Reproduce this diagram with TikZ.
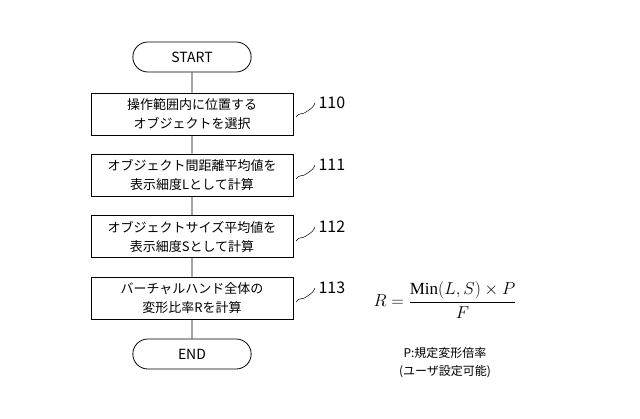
\documentclass[tikz,border=0pt]{standalone}
\usepackage{fontspec}
\setmainfont{Noto Sans CJK JP}
\newfontfamily\serif{Liberation Serif}
\usetikzlibrary{shapes.misc}
\begin{document}
\begin{tikzpicture}[x=1pt,y=-1pt,
  term/.style={draw,line width=0.8pt,rounded rectangle,minimum width=125pt,minimum height=30pt,font=\fontsize{14}{16}\selectfont},
  proc/.style={draw,line width=0.8pt,minimum width=202pt,minimum height=42pt,align=center,font=\fontsize{13}{19}\selectfont},
  lbl/.style={font=\fontsize{16}{18}\selectfont,anchor=west},
  sq/.style={line width=0.5pt}]
\useasboundingbox (0,0) rectangle (640,419);
\node[term] (s) at (192,57) {START};
\node[proc] (b0) at (192,114) {操作範囲内に位置する\\オブジェクトを選択};
\node[proc] (b1) at (192,175) {オブジェクト間距離平均値を\\表示細度Lとして計算};
\node[proc] (b2) at (192,236.5) {オブジェクトサイズ平均値を\\表示細度Sとして計算};
\node[proc] (b3) at (192,298) {バーチャルハンド全体の\\変形比率Rを計算};
\node[term] (e) at (192,354) {END};
\draw[line width=0.8pt] (s)--(b0) (b0)--(b1) (b1)--(b2) (b2)--(b3) (b3)--(e);
\foreach \n/\t/\y in {b0/110/103,b1/111/165,b2/112/227,b3/113/288}{
  \node[lbl] (l\n) at (315,\y) {\t};
  \coordinate (c\n) at (296,\y+14);
  \draw[sq] (c\n) .. controls (299,\y+9) and (303,\y+12) .. (306,\y+9) .. controls (309,\y+6) and (312,\y+7) .. (l\n.west);
}
\node (f) at (445,300) {\serif\fontsize{17}{20}\selectfont$\displaystyle R=\frac{\hbox{\serif Min}(L,S)\times P}{F}$};
\node[align=center,font=\fontsize{12}{18}\selectfont] (p) at (445,363) {P:規定変形倍率\\(ユーザ設定可能)};
\end{tikzpicture}
\end{document}
